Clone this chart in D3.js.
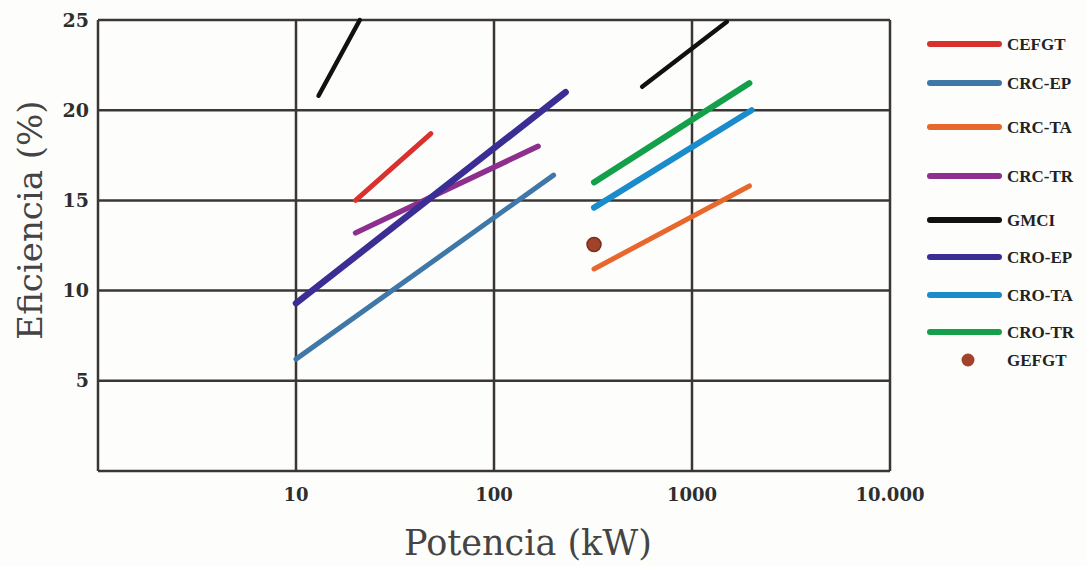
<!DOCTYPE html>
<html>
<head>
<meta charset="utf-8">
<script src="https://cdn.jsdelivr.net/npm/d3@7"></script>
<style>
  body { margin: 0; background: #fdfdfb; }
  svg { display: block; }
</style>
</head>
<body>
<svg width="1087" height="566"></svg>
<script>
const svg = d3.select('svg')

// series: name, colour, [potencia kW, eficiencia %] end points
const names = ['CEFGT','CRC-EP','CRC-TA','CRC-TR','GMCI','CRO-EP','CRO-TA','CRO-TR']
const colors = ['#d8312e','#3f77a6','#e8672c','#8c2f8e','#111111','#3a2e95','#1a8bcb','#14a04b']
const cefgt = [[20,15.0],[48,18.7]]
const crcEp = [[10,6.2],[200,16.4]]
const crcTa = [[320,11.2],[1950,15.8]]
const crcTr = [[20,13.2],[167,18.0]]
const gmciA = [[13,20.8],[21,25]]
const gmciB = [[560,21.3],[1500,24.9]]
const croEp = [[10,9.3],[230,21.0]]
const croTa = [[320,14.6],[2000,20.0]]
const croTr = [[320,16.0],[1950,21.5]]
const gefgt = [[320,12.55]]

const xTicks = [10,100,1000,10000]
const xTickLabels = ['10','100','1000','10.000']
const yTicks = [5,10,15,20,25]

const series = [
  {name:'CEFGT', pts:cefgt, w:5},
  {name:'CRC-EP', pts:crcEp, w:5},
  {name:'CRC-TA', pts:crcTa, w:5},
  {name:'CRC-TR', pts:crcTr, w:5.5},
  {name:'GMCI', pts:gmciA, w:4.5},
  {name:'GMCI', pts:gmciB, w:4.5},
  {name:'CRO-EP', pts:croEp, w:6.5},
  {name:'CRO-TA', pts:croTa, w:6},
  {name:'CRO-TR', pts:croTr, w:6}
]
const color = d3.scaleOrdinal().domain(names).range(colors)

const x = d3.scaleLog().domain([1,10000]).range([98,890])
const y = d3.scaleLinear().domain([0,25]).range([471,20])

const grid = svg.append('g').attr('stroke','#3b3636').attr('stroke-width',2.5)
grid.selectAll('.v').data([1].concat(xTicks)).join('line')
  .attr('x1',d => x(d)).attr('x2',d => x(d))
  .attr('y1',y(25)).attr('y2',y(0))
grid.selectAll('.h').data([0].concat(yTicks)).join('line')
  .attr('x1',x(1)).attr('x2',x(10000))
  .attr('y1',d => y(d)).attr('y2',d => y(d))

// tick labels
svg.append('g').selectAll('text').data(yTicks).join('text')
  .attr('x',89).attr('y',d => y(d)).attr('dy','0.35em')
  .attr('text-anchor','end')
  .style('font','bold 19px "DejaVu Serif"').attr('fill','#2e2e2e')
  .text(d => d)
svg.append('g').selectAll('text').data(xTicks).join('text')
  .attr('x',d => x(d)).attr('y',501)
  .attr('text-anchor','middle')
  .style('font','bold 18px "DejaVu Serif"').attr('fill','#2e2e2e')
  .text((d,i) => xTickLabels[i])

// axis titles
svg.append('text').attr('x',528).attr('y',555).attr('text-anchor','middle')
  .style('font','35px "DejaVu Serif"').attr('fill','#444')
  .text('Potencia (kW)')
svg.append('text').attr('transform','translate(42,220) rotate(-90)').attr('text-anchor','middle')
  .style('font','34px "DejaVu Serif"').attr('fill','#444')
  .text('Eficiencia (%)')

// lines
const line = d3.line().x(d => x(d[0])).y(d => y(d[1]))
svg.append('g').selectAll('path').data(series).join('path')
  .attr('d',d => line(d.pts))
  .attr('fill','none')
  .attr('stroke',d => color(d.name))
  .attr('stroke-width',d => d.w)
  .attr('stroke-linecap','round')

svg.append('g').selectAll('circle').data(gefgt).join('circle')
  .attr('cx',d => x(d[0])).attr('cy',d => y(d[1])).attr('r',7)
  .attr('fill','#a0432a').attr('stroke','#7a2e1c').attr('stroke-width',1.5)

// legend
const legend = svg.append('g')
const rowsY = [44,83,127,176,220,257,295,332]
legend.selectAll('line').data(names).join('line')
  .attr('x1',930).attr('x2',999)
  .attr('y1',(d,i) => rowsY[i]).attr('y2',(d,i) => rowsY[i])
  .attr('stroke',d => color(d)).attr('stroke-width',6).attr('stroke-linecap','round')
legend.selectAll('text').data(names.concat(['GEFGT'])).join('text')
  .attr('x',1007).attr('y',(d,i) => i < 8 ? rowsY[i] : 360).attr('dy','0.35em')
  .style('font','bold 17px "Liberation Serif"').attr('fill','#222')
  .text(d => d)
legend.append('circle').attr('cx',968).attr('cy',360).attr('r',6.5)
  .attr('fill','#a0432a')
</script>
</body>
</html>
